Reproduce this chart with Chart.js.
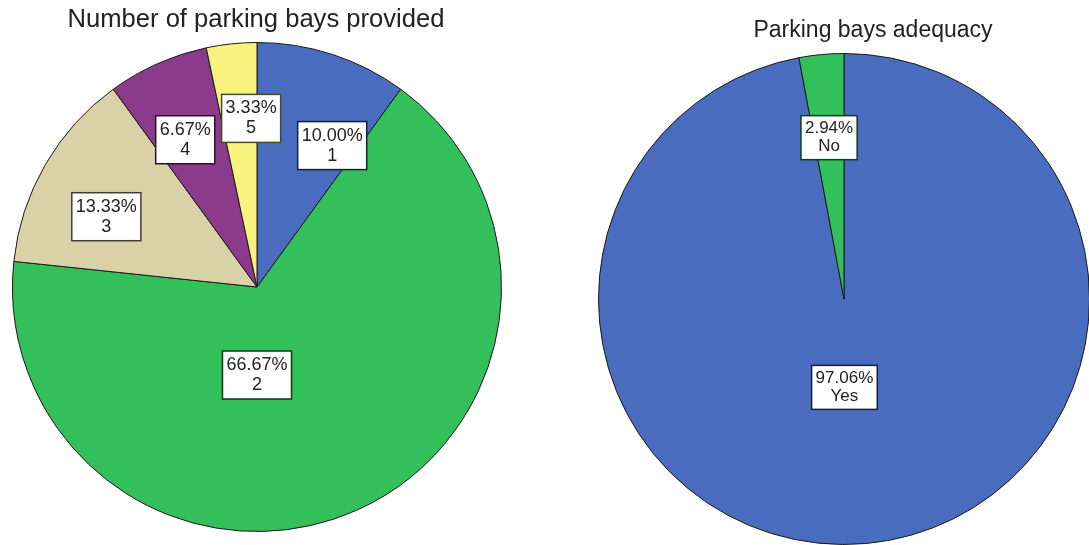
<!DOCTYPE html>
<html>
<head>
<meta charset="utf-8">
<script src="https://cdn.jsdelivr.net/npm/chart.js@4"></script>
<style>
  html, body { margin: 0; padding: 0; background: #fff; overflow: hidden; }
  body { width: 1089px; height: 545px; position: relative; }
  .box { position: absolute; top: 0; height: 545px; }
</style>
</head>
<body>
<div class="box" style="left:0;width:514px"><canvas id="tortaBahias"></canvas></div>
<div class="box" style="left:597px;width:494px"><canvas id="tortaAdecuacion"></canvas></div>
<script>
// Numero de bahias provistas
const categoriasBahias = ['1', '2', '3', '4', '5'];
const porcentajesBahias = [10.00, 66.67, 13.33, 6.67, 3.33];
const coloresBahias = ['#4a6cbe', '#33c05a', '#d9d2a9', '#8c3a8c', '#f8f37e'];

// Adecuacion de bahias
const categoriasAdecuacion = ['Yes', 'No'];
const porcentajesAdecuacion = [97.06, 2.94];
const coloresAdecuacion = ['#4a6cbe', '#33c05a'];

const fuente = '"Liberation Sans", Arial, sans-serif';

function oscurecer(hex, f) {
  const n = parseInt(hex.slice(1), 16);
  const r = Math.round(((n >> 16) & 255) * f);
  const g = Math.round(((n >> 8) & 255) * f);
  const b = Math.round((n & 255) * f);
  return `rgb(${r},${g},${b})`;
}

// titulo propio, porque el de Chart.js se centra sobre la torta
const tituloLibre = {
  id: 'tituloLibre',
  afterDraw(chart, args, opts) {
    const ctx = chart.ctx;
    ctx.save();
    ctx.font = opts.size + 'px ' + fuente;
    ctx.fillStyle = '#222';
    ctx.textAlign = 'center';
    ctx.textBaseline = 'alphabetic';
    ctx.fillText(opts.text, opts.x, opts.y);
    ctx.restore();
  }
};

// dibuja las cajas blancas con porcentaje y categoria
const etiquetasCaja = {
  id: 'etiquetasCaja',
  afterDatasetsDraw(chart, args, opts) {
    const ctx = chart.ctx;
    const meta = chart.getDatasetMeta(0);
    const ds = chart.data.datasets[0];
    ctx.save();
    ctx.font = opts.fontSize + 'px ' + fuente;
    ctx.textAlign = 'center';
    ctx.textBaseline = 'middle';
    meta.data.forEach((arc, i) => {
      const p = arc.getProps(['x', 'y', 'startAngle', 'endAngle', 'outerRadius'], true);
      const ang = (p.startAngle + p.endAngle) / 2 + (opts.turn[i] || 0) * Math.PI / 180;
      const d = p.outerRadius * opts.radius[i];
      const cx = p.x + Math.cos(ang) * d;
      const cy = p.y + Math.sin(ang) * d;
      const l1 = ds.data[i].toFixed(2) + '%';
      const l2 = chart.data.labels[i];
      const w = Math.max(ctx.measureText(l1).width, ctx.measureText(l2).width) + 8;
      const h = opts.lineH * 2 + 8;
      ctx.fillStyle = '#ffffff';
      ctx.fillRect(cx - w / 2, cy - h / 2, w, h);
      ctx.strokeStyle = oscurecer(ds.backgroundColor[i], 0.3);
      ctx.lineWidth = 1.5;
      ctx.strokeRect(cx - w / 2, cy - h / 2, w, h);
      ctx.fillStyle = '#222';
      ctx.fillText(l1, cx, cy - opts.lineH / 2);
      ctx.fillText(l2, cx, cy + opts.lineH / 2);
    });
    ctx.restore();
  }
};

function generarTorta(id, etiquetas, valores, colores, conf) {
  const ctx = document.getElementById(id).getContext('2d');
  new Chart(ctx, {
    type: 'pie',
    data: {
      labels: etiquetas,
      datasets: [{
        data: valores,
        backgroundColor: colores,
        borderColor: '#1a1a1a',
        borderWidth: 1
      }]
    },
    plugins: [etiquetasCaja, tituloLibre],
    options: {
      responsive: true,
      maintainAspectRatio: false,
      animation: false,
      layout: { padding: conf.padding },
      plugins: {
        legend: { display: false },
        tooltip: { enabled: false },
        title: { display: false },
        tituloLibre: conf.titulo,
        etiquetasCaja: conf.etiquetas
      }
    }
  });
}

generarTorta('tortaBahias', categoriasBahias, porcentajesBahias, coloresBahias, {
  padding: { top: 42, bottom: 13 },
  titulo: { text: 'Number of parking bays provided', size: 25.6, x: 256, y: 27 },
  etiquetas: { fontSize: 18, lineH: 20, radius: [0.655, 0.36, 0.68, 0.67, 0.69], turn: [10, 24, -5, -2, 4] }
});

generarTorta('tortaAdecuacion', categoriasAdecuacion, porcentajesAdecuacion, coloresAdecuacion, {
  padding: { top: 53, bottom: 0 },
  titulo: { text: 'Parking bays adequacy', size: 23, x: 276, y: 37 },
  etiquetas: { fontSize: 17, lineH: 18, radius: [0.36, 0.66], turn: [5, 0] }
});
</script>
</body>
</html>
